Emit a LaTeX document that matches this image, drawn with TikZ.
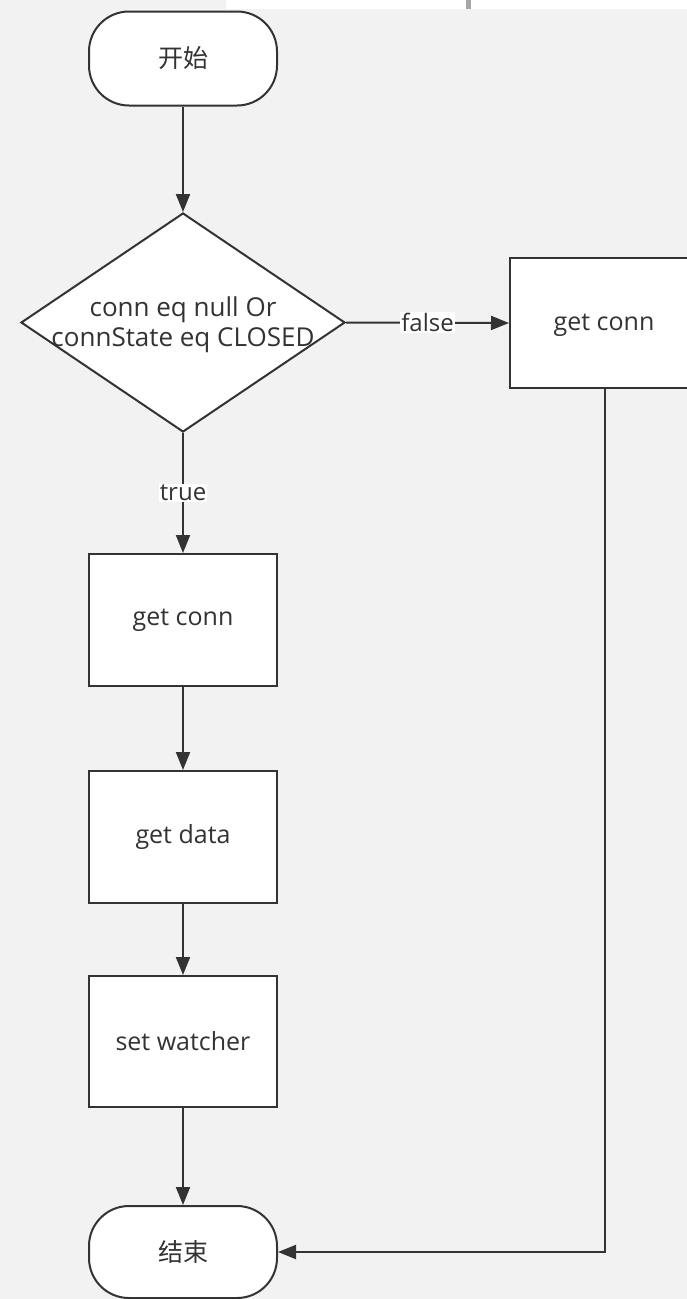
\documentclass[tikz,border=0pt]{standalone}
\usepackage{fontspec}
\setmainfont{Open Sans}
\newfontfamily\cjk{Noto Sans CJK SC}
\usetikzlibrary{shapes.geometric,arrows.meta}
\definecolor{bgc}{HTML}{F2F2F2}
\definecolor{linec}{HTML}{333333}
\begin{document}
\begin{tikzpicture}[x=1pt,y=-1pt,
  every node/.style={font=\fontsize{25}{30}\selectfont, text=linec},
  box/.style={draw=linec, line width=2pt, fill=white, minimum width=188pt, minimum height=132pt, inner sep=0},
  term/.style={draw=linec, line width=2pt, fill=white, minimum width=188pt, minimum height=94pt, rounded corners=40pt, inner sep=0},
  dec/.style={diamond, draw=linec, line width=2pt, fill=white, minimum width=324pt, minimum height=219pt, inner sep=0},
  conn/.style={draw=linec, line width=2pt, -{Triangle[length=18pt,width=14pt]}},
  lbl/.style={fill=white, inner sep=1pt, font=\fontsize{24}{28}\selectfont}]
\useasboundingbox (0,0) rectangle (687,1299);
\fill[bgc] (0,0) rectangle (687,1299);
% top strip
\fill[white] (226,0) rectangle (687,9);
\fill[gray!70] (466,0) rectangle (471,9);
% nodes
\node[term] (start) at (183,58.5) {\cjk 开始};
\node[dec] (dec) at (183,322.5) {};
\node[align=center, font=\fontsize{26}{30}\selectfont] (dect) at (183,325) {conn eq null Or\\connState eq CLOSED};
\node[box, minimum width=190pt, minimum height=130pt] (rb) at (605,323) {};
\node (rbt) at (604,325) {get conn};
\node[box] (b1) at (183,620) {get conn};
\node[box] (b2) at (183,837) {get data};
\node[box, minimum height=131pt] (b3) at (183,1041.5) {set watcher};
\node[term, minimum height=92pt] (stop) at (183,1252) {\cjk 结束};
% connectors
\draw[conn] (start) -- (dec.north);
\draw[conn] (dec.east) -- node[lbl] {false} (rb.west);
\draw[conn] (dec.south) -- node[lbl] {true} (b1.north);
\draw[conn] (b1) -- (b2);
\draw[conn] (b2) -- (b3);
\draw[conn] (b3) -- (stop);
\draw[conn] (rb.south) |- (stop.east);
\end{tikzpicture}
\end{document}
